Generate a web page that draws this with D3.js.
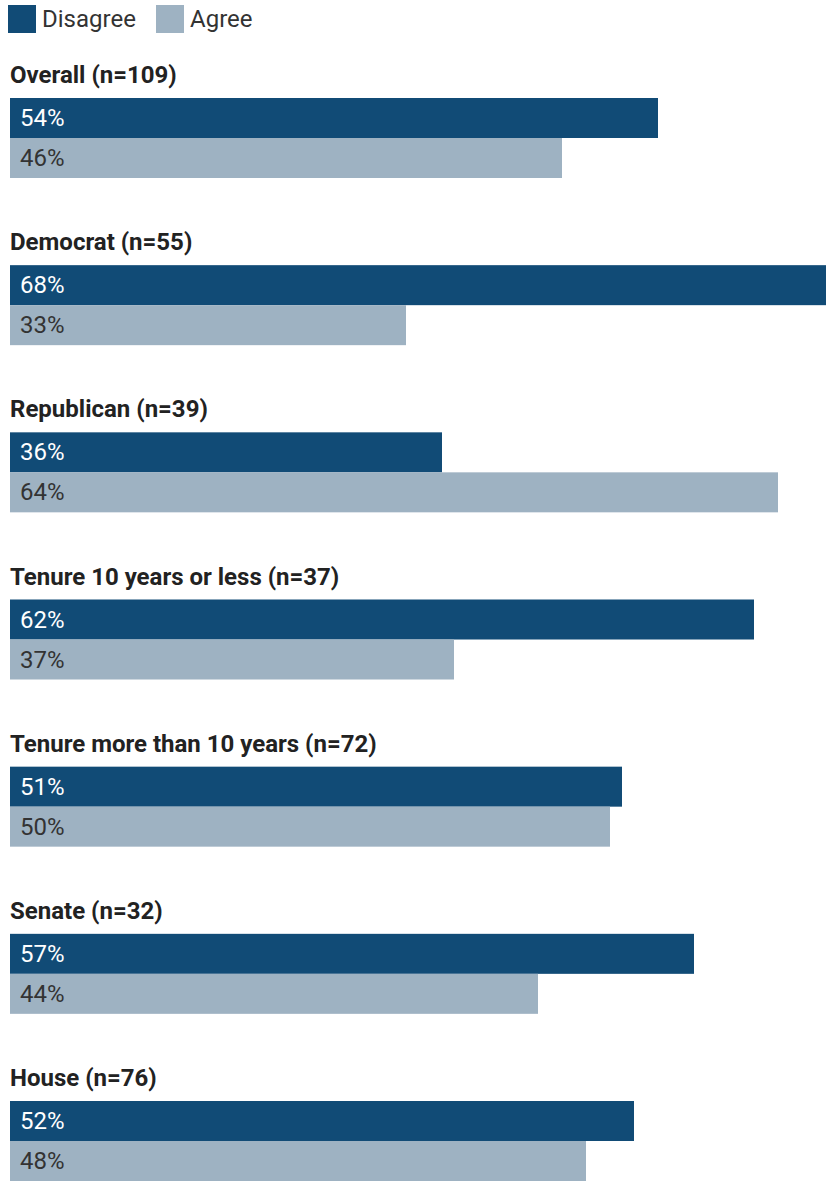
<!DOCTYPE html>
<html>
<head>
<meta charset="utf-8">
<script src="https://cdn.jsdelivr.net/npm/d3@7"></script>
<style>
  html, body { margin: 0; padding: 0; background: #fff; }
  svg { display: block; font-family: Roboto, "Noto Sans", sans-serif; }
</style>
</head>
<body>
<svg id="chart" width="833" height="1183"></svg>
<script>
// Survey groups and their response shares (percent)
const groups = [
  "Overall (n=109)",
  "Democrat (n=55)",
  "Republican (n=39)",
  "Tenure 10 years or less (n=37)",
  "Tenure more than 10 years (n=72)",
  "Senate (n=32)",
  "House (n=76)"
];
const disagree = [54, 68, 36, 62, 51, 57, 52];
const agree    = [46, 33, 64, 37, 50, 44, 48];
const seriesNames = ["Disagree", "Agree"];

const colors = { Disagree: "#114b76", Agree: "#9eb2c2" };
const labelColors = { Disagree: "#ffffff", Agree: "#333333" };

const svg = d3.select("#chart");
const left = 10;

const x = d3.scaleLinear().domain([0, 68]).range([left, 826]);

// Each group: title line followed by two stacked bars
const groupY = d3.scaleBand().domain(groups).range([98, 1101 + 1003 / 6]);
const barH = 40;

// Legend
const legend = svg.append("g");
const legendX = [8, 156];
seriesNames.forEach((s, i) => {
  legend.append("rect")
    .attr("x", legendX[i]).attr("y", 5)
    .attr("width", 28).attr("height", 28)
    .attr("fill", colors[s]);
  legend.append("text")
    .attr("x", legendX[i] + 34).attr("y", 27)
    .attr("font-size", 24).attr("fill", "#333")
    .text(s);
});

const data = groups.map((g, i) => ({ group: g, values: [
  { series: "Disagree", value: disagree[i] },
  { series: "Agree", value: agree[i] }
]}));

const g = svg.selectAll("g.group").data(data).join("g")
  .attr("class", "group")
  .attr("transform", d => `translate(0,${groupY(d.group)})`);

g.append("text")
  .attr("x", left).attr("y", -15)
  .attr("font-size", 24).attr("font-weight", 700).attr("fill", "#222")
  .text(d => d.group);

const bars = g.selectAll("g.bar").data(d => d.values).join("g").attr("class", "bar");

bars.append("rect")
  .attr("x", x(0))
  .attr("y", (d, i) => i * barH)
  .attr("width", d => x(d.value) - x(0))
  .attr("height", barH)
  .attr("fill", d => colors[d.series]);

bars.append("text")
  .attr("x", left + 10)
  .attr("y", (d, i) => i * barH + 28)
  .attr("font-size", 24)
  .attr("fill", d => labelColors[d.series])
  .text(d => d.value + "%");
</script>
</body>
</html>
